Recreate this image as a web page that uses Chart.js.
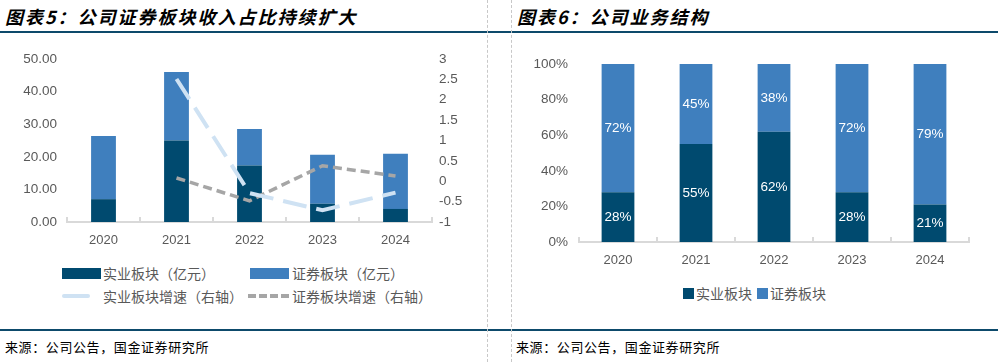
<!DOCTYPE html>
<html>
<head>
<meta charset="utf-8">
<script src="https://cdn.jsdelivr.net/npm/chart.js@4.4.1/dist/chart.umd.min.js"></script>
<style>
  body { margin: 0; width: 998px; height: 362px; position: relative; background: #fff; overflow: hidden;
         font-family: "Liberation Sans", "Noto Sans CJK SC", sans-serif; }
  .title { position: absolute; top: 3px; font: italic bold 18px "Noto Sans CJK SC"; letter-spacing: 2px; color: #000; line-height: 26px; white-space: nowrap; }
  .hline { position: absolute; left: 0; width: 998px; height: 2px; background: #0d4a6b; }
  .vline { position: absolute; top: 0; height: 362px; width: 0; border-left: 1px dashed #c8c8c8; }
  .source { position: absolute; top: 337px; font: 13px "Noto Sans CJK SC"; letter-spacing: 0.6px; color: #000; white-space: nowrap; }
  .wrap { position: absolute; }
  .lg { position: absolute; font: 14px "Noto Sans CJK SC"; color: #595959; line-height: 20px; white-space: nowrap; }
  .sw { position: absolute; }
</style>
</head>
<body>
<div class="title" style="left:5px">图表5：公司证券板块收入占比持续扩大</div>
<div class="title" style="left:517px">图表6：公司业务结构</div>
<div class="hline" style="top:31px"></div>
<div class="hline" style="top:329px"></div>
<div class="vline" style="left:487px"></div>
<div class="vline" style="left:511px"></div>

<div class="wrap" style="left:0;top:40px;width:487px;height:220px"><canvas id="leftChart"></canvas></div>
<div class="wrap" style="left:511px;top:40px;width:487px;height:240px"><canvas id="rightChart"></canvas></div>

<!-- left legend -->
<div class="sw" style="left:62px;top:268px;width:39px;height:11px;background:#004a6f"></div>
<div class="lg" style="left:103px;top:263px">实业板块（亿元）</div>
<div class="sw" style="left:250px;top:268px;width:39px;height:11px;background:#3f7fbe"></div>
<div class="lg" style="left:292px;top:263px">证券板块（亿元）</div>
<div class="sw" style="left:62px;top:294px;width:28px;height:4px;border-radius:2px;background:#cfe2f3"></div>
<div class="lg" style="left:103px;top:286px">实业板块增速（右轴）</div>
<div class="sw" style="left:248px;top:294px;width:41px;height:0;border-top:4px dashed #a6a6a6"></div>
<div class="lg" style="left:292px;top:286px">证券板块增速（右轴）</div>

<!-- right legend -->
<div class="sw" style="left:683px;top:288px;width:11px;height:11px;background:#004a6f"></div>
<div class="lg" style="left:696px;top:283px">实业板块</div>
<div class="sw" style="left:757px;top:288px;width:11px;height:11px;background:#3f7fbe"></div>
<div class="lg" style="left:770px;top:283px">证券板块</div>

<div class="source" style="left:5px">来源：公司公告，国金证券研究所</div>
<div class="source" style="left:516px">来源：公司公告，国金证券研究所</div>

<script>
// data
const years = ["2020", "2021", "2022", "2023", "2024"];
const shiyeRevenue = [7.0, 25.0, 17.3, 5.6, 4.0];        // 实业板块（亿元）
const zhengquanRevenue = [19.4, 21.0, 11.2, 15.0, 16.9]; // 证券板块（亿元）
const shiyeGrowth = [null, 2.51, -0.29, -0.71, -0.28];   // 实业板块增速（右轴）
const zhengquanGrowth = [null, 0.08, -0.48, 0.38, 0.13]; // 证券板块增速（右轴）
const shiyeShare = [28, 55, 62, 28, 21];                 // 实业板块 %
const zhengquanShare = [72, 45, 38, 72, 79];             // 证券板块 %

const darkBlue = "#004a6f";
const midBlue = "#3f7fbe";
const axisGray = "#d9d9d9";

Chart.defaults.font.family = "'Liberation Sans', 'Noto Sans CJK SC', sans-serif";
Chart.defaults.font.size = 13;
Chart.defaults.color = "#595959";
Chart.defaults.animation = false;

const xAxis = (h) => ({
    stacked: true,
    grid: { display: true, offset: true, drawOnChartArea: false, drawTicks: true, tickLength: -5, color: axisGray, lineWidth: 2 },
    border: { display: true, color: axisGray, width: 2 },
    ticks: { padding: 16 },
    afterFit: s => { s.height = h; }
});

const noGrid = { display: false, drawTicks: false };

new Chart(document.getElementById("leftChart"), {
    type: "bar",
    data: {
        labels: years,
        datasets: [
            { label: "实业板块（亿元）", data: shiyeRevenue, backgroundColor: darkBlue, stack: "rev", order: 1 },
            { label: "证券板块（亿元）", data: zhengquanRevenue, backgroundColor: midBlue, stack: "rev", order: 1 },
            { type: "line", label: "实业板块增速（右轴）", data: shiyeGrowth, yAxisID: "y1", borderColor: "#cfe2f3",
              borderWidth: 4, borderDash: [24, 10], pointRadius: 0, tension: 0, order: 0 },
            { type: "line", label: "证券板块增速（右轴）", data: zhengquanGrowth, yAxisID: "y1", borderColor: "#a6a6a6",
              borderWidth: 3.5, borderDash: [9, 5], pointRadius: 0, tension: 0, order: 0 }
        ]
    },
    options: {
        responsive: true,
        maintainAspectRatio: false,
        layout: { padding: { top: 19 } },
        datasets: { bar: { categoryPercentage: 1, barPercentage: 0.34 } },
        plugins: { legend: { display: false }, tooltip: { enabled: false } },
        scales: {
            x: xAxis(38),
            y: {
                stacked: true, min: 0, max: 50,
                grid: noGrid, border: { display: false },
                ticks: { stepSize: 10, padding: 10, font: { size: 13.5 }, callback: v => v.toFixed(2) },
                afterFit: s => { s.width = 67; }
            },
            y1: {
                position: "right", min: -1, max: 3,
                grid: noGrid, border: { display: false },
                ticks: { stepSize: 0.5, padding: 7, font: { size: 13.5 }, callback: v => String(v) },
                afterFit: s => { s.width = 55; }
            }
        }
    }
});

// white percentage labels inside the stacked bars
const segmentLabels = {
    id: "segmentLabels",
    afterDatasetsDraw(chart) {
        const ctx = chart.ctx;
        ctx.save();
        ctx.fillStyle = "#ffffff";
        ctx.font = "13.5px 'Liberation Sans', sans-serif";
        ctx.textAlign = "center";
        ctx.textBaseline = "middle";
        chart.data.datasets.forEach((ds, i) => {
            chart.getDatasetMeta(i).data.forEach((bar, j) => {
                ctx.fillText(ds.data[j] + "%", bar.x, (bar.y + bar.base) / 2);
            });
        });
        ctx.restore();
    }
};

new Chart(document.getElementById("rightChart"), {
    type: "bar",
    data: {
        labels: years,
        datasets: [
            { label: "实业板块", data: shiyeShare, backgroundColor: darkBlue },
            { label: "证券板块", data: zhengquanShare, backgroundColor: midBlue }
        ]
    },
    options: {
        responsive: true,
        maintainAspectRatio: false,
        layout: { padding: { top: 24, right: 29 } },
        datasets: { bar: { categoryPercentage: 1, barPercentage: 0.42 } },
        plugins: { legend: { display: false }, tooltip: { enabled: false } },
        scales: {
            x: xAxis(38),
            y: {
                stacked: true, min: 0, max: 100,
                grid: noGrid, border: { display: false },
                ticks: { stepSize: 20, padding: 11, font: { size: 13.5 }, callback: v => v + "%" },
                afterFit: s => { s.width = 68; }
            }
        }
    },
    plugins: [segmentLabels]
});
</script>
</body>
</html>
